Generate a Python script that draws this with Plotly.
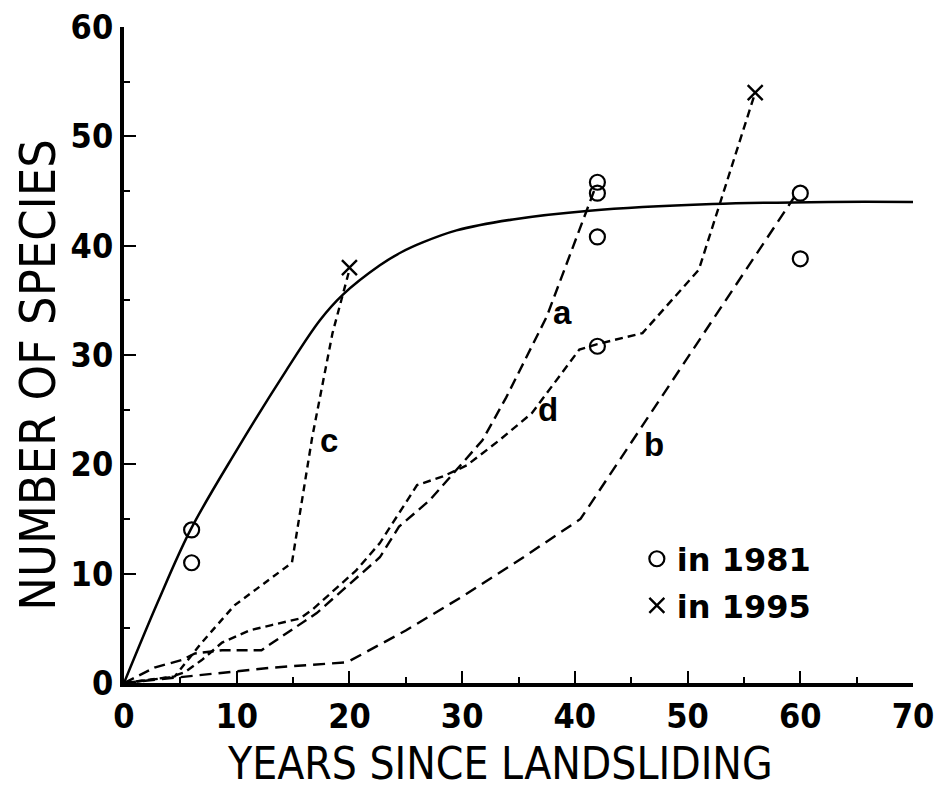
import plotly.graph_objects as go

# ---- data ----
curve_x = [0, 3, 5.9, 10, 14.4, 17.4, 19.4, 22.7, 24.6, 26.5, 29.5, 34.5, 41.3, 52.2, 62.5, 70]
curve_y = [0, 7.4, 14, 21.3, 28.6, 33.2, 35.5, 38.2, 39.4, 40.3, 41.4, 42.4, 43.2, 43.8, 44.0, 44.0]

a_x = [0, 2.7, 5.1, 6.3, 8.7, 12.2, 13.2, 17.1, 19.4, 22.7, 24.4, 27.1, 29.5, 31.8, 33.9, 37.5, 41.7]
a_y = [0, 1.4, 2.1, 2.7, 3.0, 3.0, 3.7, 6.4, 8.5, 11.5, 14.3, 16.7, 19.5, 22.2, 26.1, 33.5, 45]

b_x = [0, 5.8, 9.8, 13.1, 19.8, 25, 30, 35, 40.5, 59.5]
b_y = [0, 0.6, 1.0, 1.4, 1.9, 4.8, 7.9, 11.2, 15, 44.5]

c_x = [0, 4.5, 6.9, 9.8, 14.9, 16.7, 18.5, 20]
c_y = [0, 0.6, 3.7, 7.1, 11, 22.5, 32, 37.8]

d_x = [0, 4, 5.4, 6.9, 8.7, 11.1, 13.1, 15.6, 16.7, 20.6, 22.7, 26, 28.3, 30.4, 33.3, 36.2, 40.4, 42, 46, 51, 56]
d_y = [0, 0.5, 1.0, 2.1, 3.7, 4.8, 5.3, 5.9, 6.7, 10.3, 12.8, 18.1, 18.9, 19.9, 22.2, 24.7, 30.5, 31, 32, 37.8, 54]

obs1981_x = [6, 6, 42, 42, 42, 42, 60, 60]
obs1981_y = [14, 11, 45.8, 44.8, 40.8, 30.8, 44.8, 38.8]
obs1995_x = [20, 56]
obs1995_y = [38, 54]

label_text = ["a", "b", "c", "d"]
label_x = [38.9, 47.0, 18.2, 37.6]
label_y = [33.9, 21.8, 22.2, 25.0]

x_ticks = [0, 10, 20, 30, 40, 50, 60, 70]
y_ticks = [0, 10, 20, 30, 40, 50, 60]

# ---- figure ----
fig = go.Figure()
fig.add_trace(go.Scatter(x=curve_x, y=curve_y, mode="lines",
                         line=dict(color="black", width=2.5, shape="spline", smoothing=1.0),
                         showlegend=False, hoverinfo="skip"))

for xs, ys, dash in [(a_x, a_y, "11px,6px"), (b_x, b_y, "12px,7px"), (c_x, c_y, "7px,5px"), (d_x, d_y, "8px,5px")]:
    fig.add_trace(go.Scatter(x=xs, y=ys, mode="lines", line=dict(color="black", width=2.4, dash=dash),
                             showlegend=False, hoverinfo="skip"))

fig.add_trace(go.Scatter(x=obs1981_x, y=obs1981_y, mode="markers", name="in 1981", legendgroup="g1",
                         marker=dict(symbol="circle-open", size=15, color="black", line=dict(width=2.2, color="black"))))
fig.add_trace(go.Scatter(x=obs1995_x, y=obs1995_y, mode="markers", name="in 1995", legendgroup="g2",
                         marker=dict(symbol="x-thin-open", size=15, color="black", line=dict(width=2.4, color="black"))))

for t, x, y in zip(label_text, label_x, label_y):
    fig.add_annotation(x=x, y=y, text=t, showarrow=False, xref="x", yref="y",
                       font=dict(family="Liberation Sans, Arial", size=33, color="black", weight="bold"))

narrow = "Liberation Sans Narrow, DejaVu Sans Condensed, Liberation Sans"
fig.add_annotation(text="YEARS SINCE LANDSLIDING", xref="paper", yref="paper", x=0.477, y=-0.123,
                   yanchor="middle", xanchor="center", showarrow=False,
                   font=dict(family=narrow, size=44, color="black"))
fig.add_annotation(text="NUMBER OF SPECIES", xref="paper", yref="paper", x=-0.109, y=0.47,
                   yanchor="middle", xanchor="center", showarrow=False, textangle=-90,
                   font=dict(family=narrow, size=50, color="black"))

axis_common = dict(showgrid=False, zeroline=False, showline=True, linecolor="black", linewidth=4,
                   ticks="inside", ticklen=12, tickwidth=2, tickcolor="black", automargin=False,
                   ticklabeloverflow="allow",
                   tickfont=dict(family=narrow, size=34, color="black", weight="bold"),
                   minor=dict(ticks="inside", ticklen=6, tickwidth=2, tickcolor="black", dtick=5))

fig.update_xaxes(range=[0, 70], tickvals=x_ticks, ticktext=[str(v) for v in x_ticks], **axis_common)
fig.update_yaxes(range=[0, 60], tickvals=y_ticks, ticktext=[str(v) for v in y_ticks], **axis_common)

fig.update_layout(
    width=937, height=791,
    margin=dict(l=124, r=24, t=27, b=108, autoexpand=False),
    plot_bgcolor="white", paper_bgcolor="white",
    legend=dict(x=0.65, y=0.231, xanchor="left", yanchor="top", bgcolor="rgba(0,0,0,0)",
                font=dict(family="DejaVu Sans", size=32, color="black", weight="bold"),
                itemsizing="trace", traceorder="grouped", tracegroupgap=2),
)

# remove the default page margin so the 937x791 figure fills the window exactly
fig.write_html("out.html", config={"displayModeBar": False},
               post_script="document.body.style.margin='0';document.body.style.overflow='hidden';")
